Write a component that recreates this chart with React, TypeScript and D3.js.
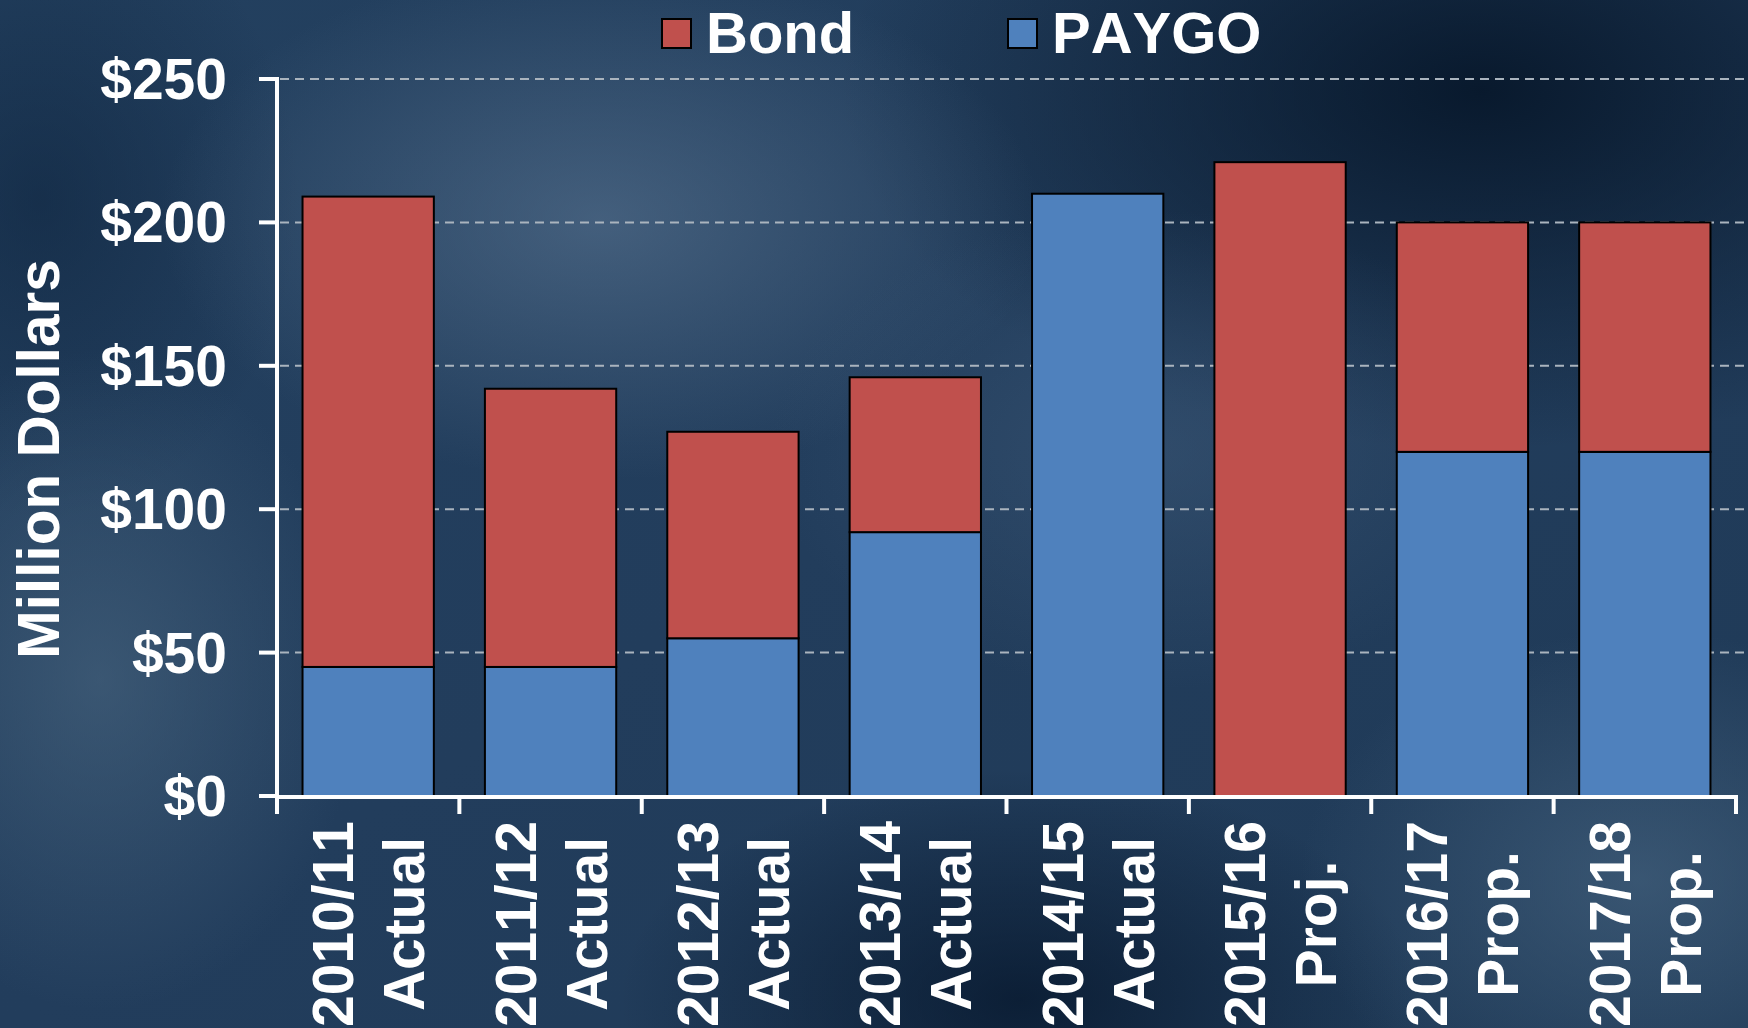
import React from "react";
import * as d3 from "d3";

const categories = ["2010/11|Actual", "2011/12|Actual", "2012/13|Actual", "2013/14|Actual", "2014/15|Actual", "2015/16|Proj.", "2016/17|Prop.", "2017/18|Prop."];
const paygo = [45, 45, 55, 92, 210, 0, 120, 120];
const bond = [164, 97, 72, 54, 0, 221, 80, 80];
const yTicks = [0, 50, 100, 150, 200, 250];
const seriesNames = ["Bond", "PAYGO"];
const seriesColors = ["#C0504D", "#4F81BD"];

const W = 1748;
const H = 1028;
const FONT = "'Liberation Sans', Arial, Helvetica, sans-serif";

export default function App() {
  const x = d3.scaleBand<string>().domain(categories).range([277, 1736]).paddingInner(0.28).paddingOuter(0.14);
  const y = d3.scaleLinear().domain([0, 250]).range([796, 79]);
  const step = x.step();
  const rows = categories.map((c, i) => ({ cat: c, PAYGO: paygo[i], Bond: bond[i] }));
  const stack = d3.stack<any>().keys(["PAYGO", "Bond"])(rows);
  const colorOf = (k: string) => (k === "Bond" ? seriesColors[0] : seriesColors[1]);

  const blobs: [string, string, number][] = [
    ["g1", "#5a7592", 0.6],
    ["g2", "#041325", 0.85],
    ["g3", "#4a6781", 0.6],
    ["g4", "#05152a", 0.75],
    ["g5", "#4a6884", 0.6],
    ["g6", "#3f5b7a", 0.5],
    ["g7", "#0a1f38", 0.5],
  ];

  return (
    <svg width={W} height={H} style={{ position: "absolute", left: 0, top: 0, display: "block", fontKerning: "none" }} fontFamily={FONT}>
      <defs>
        <linearGradient id="bg" x1="0" y1="0" x2="1" y2="1">
          <stop offset="0" stopColor="#23405f" />
          <stop offset="0.5" stopColor="#223d5c" />
          <stop offset="1" stopColor="#1f3a57" />
        </linearGradient>
        {blobs.map(([id, c, o]) => (
          <radialGradient id={id} key={id}>
            <stop offset="0" stopColor={c} stopOpacity={o} />
            <stop offset="1" stopColor={c} stopOpacity={0} />
          </radialGradient>
        ))}
      </defs>
      <rect x={0} y={0} width={W} height={H} fill="url(#bg)" />
      <ellipse cx={1480} cy={90} rx={640} ry={360} fill="url(#g2)" />
      <ellipse cx={1020} cy={1000} rx={400} ry={230} fill="url(#g4)" />
      <ellipse cx={40} cy={200} rx={260} ry={320} fill="url(#g7)" />
      <ellipse cx={600} cy={220} rx={440} ry={260} fill="url(#g1)" />
      <ellipse cx={100} cy={680} rx={260} ry={330} fill="url(#g3)" />
      <ellipse cx={1640} cy={880} rx={340} ry={250} fill="url(#g5)" />
      <ellipse cx={1150} cy={450} rx={380} ry={240} fill="url(#g6)" />

      {/* gridlines */}
      {yTicks.filter((t) => t > 0).map((t) => (
        <line key={t} x1={280} x2={W} y1={y(t)} y2={y(t)} stroke="#aab4be" strokeWidth={2} strokeDasharray="9 6" />
      ))}

      {/* bars */}
      {stack.map((layer) =>
        layer.map((d, i) =>
          d[1] - d[0] > 0 ? (
            <rect
              key={layer.key + i}
              x={x(categories[i])}
              y={y(d[1])}
              width={x.bandwidth()}
              height={y(d[0]) - y(d[1])}
              fill={colorOf(layer.key)}
              stroke="#000"
              strokeWidth={2}
            />
          ) : null
        )
      )}

      {/* axes */}
      <line x1={277} x2={277} y1={77} y2={798} stroke="#fff" strokeWidth={4} />
      <line x1={275} x2={1738} y1={797} y2={797} stroke="#fff" strokeWidth={4} />
      {yTicks.map((t) => (
        <line key={"yt" + t} x1={259} x2={277} y1={y(t)} y2={y(t)} stroke="#fff" strokeWidth={4} />
      ))}
      {d3.range(categories.length + 1).map((i) => (
        <line key={"xt" + i} x1={277 + i * step} x2={277 + i * step} y1={797} y2={814} stroke="#fff" strokeWidth={4} />
      ))}

      {/* y tick labels */}
      {yTicks.map((t) => (
        <text key={"yl" + t} x={227} y={y(t) + 20} textAnchor="end" fill="#fff" fontWeight="bold" fontSize={57}>
          {"$" + t}
        </text>
      ))}

      {/* y title */}
      <text transform="translate(59,459) rotate(-90)" textAnchor="middle" fill="#fff" fontWeight="bold" fontSize={58.5}>
        Million Dollars
      </text>

      {/* x labels */}
      {categories.map((c) => {
        const cx = (x(c) as number) + x.bandwidth() / 2;
        const [l1, l2] = c.split("|");
        return (
          <g key={"xl" + c} transform={`translate(${cx},924) rotate(-90)`}>
            <text x={0} y={-15} textAnchor="middle" fill="#fff" fontWeight="bold" fontSize={57}>
              {l1}
            </text>
            <text x={0} y={56} textAnchor="middle" fill="#fff" fontWeight="bold" fontSize={57}>
              {l2}
            </text>
          </g>
        );
      })}

      {/* legend */}
      {seriesNames.map((n, i) => {
        const sx = i === 0 ? 662 : 1008;
        return (
          <g key={"lg" + n}>
            <rect x={sx} y={19} width={29} height={29} fill={seriesColors[i]} stroke="#000" strokeWidth={2} />
            <text x={sx + 44} y={53} fill="#fff" fontWeight="bold" fontSize={58}>
              {n}
            </text>
          </g>
        );
      })}
    </svg>
  );
}
